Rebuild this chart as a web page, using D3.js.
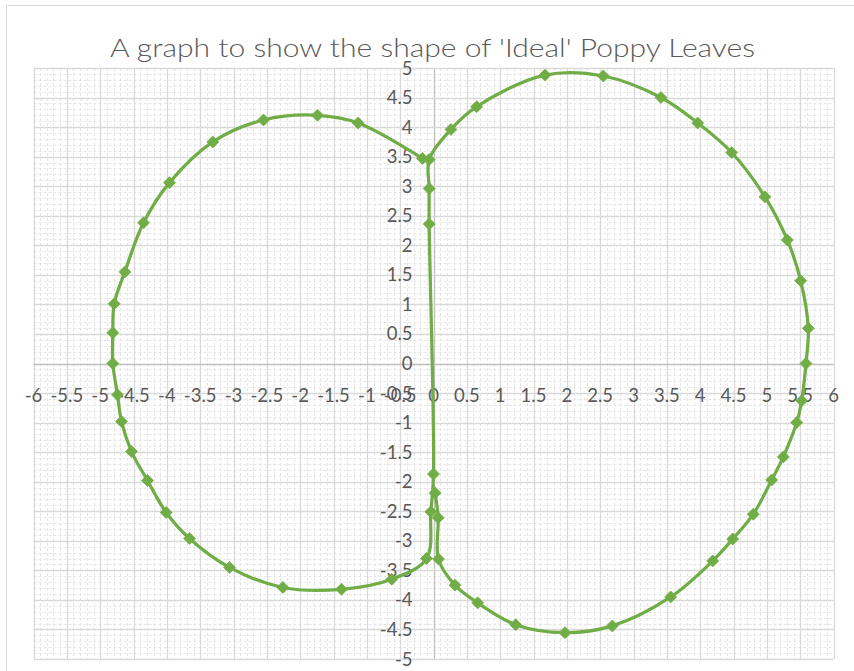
<!DOCTYPE html>
<html>
<head>
<meta charset="utf-8">
<script src="https://cdn.jsdelivr.net/npm/d3@7/dist/d3.min.js"></script>
<style>
  body { margin: 0; background: #fff; }
  svg { display: block; }
  text { font-family: Lato, "Open Sans", sans-serif; fill: #595959; }
</style>
</head>
<body>
<svg id="chart" width="854" height="671"></svg>
<script>
// Chart text and axis ticks
const chartTitle = "A graph to show the shape of 'Ideal' Poppy Leaves";
const xTicks = [-6, -5.5, -5, -4.5, -4, -3.5, -3, -2.5, -2, -1.5, -1, -0.5, 0,
                0.5, 1, 1.5, 2, 2.5, 3, 3.5, 4, 4.5, 5, 5.5, 6];
const yTicks = [-5, -4.5, -4, -3.5, -3, -2.5, -2, -1.5, -1, -0.5, 0,
                0.5, 1, 1.5, 2, 2.5, 3, 3.5, 4, 4.5, 5];

// Leaf outline, traced as one series: left leaf from the top of the stem,
// round and back to the base, up the stem, then round the right leaf.
const leafX = [
  -0.165, -1.13, -1.74, -2.55, -3.31, -3.96, -4.35, -4.63, -4.79, -4.81, -4.81,
  -4.74, -4.68, -4.53, -4.29, -4.01, -3.66, -3.06, -2.26, -1.38, -0.627,
  -0.105, -0.04, 0.0, -0.065, -0.065, -0.065,
  0.262, 0.648, 1.672, 2.547, 3.412, 3.963, 4.473, 4.972, 5.307, 5.508, 5.622,
  5.587, 5.523, 5.448, 5.247, 5.073, 4.797, 4.488, 4.188, 3.558, 2.682, 1.972,
  1.233, 0.663, 0.322, 0.075, 0.07, 0.025
];
const leafY = [
  3.47, 4.07, 4.20, 4.12, 3.75, 3.06, 2.38, 1.55, 1.01, 0.52, 0.0,
  -0.53, -0.98, -1.49, -1.98, -2.52, -2.96, -3.45, -3.79, -3.82, -3.65,
  -3.30, -2.51, -1.87, 2.36, 2.96, 3.45,
  3.96, 4.345, 4.88, 4.865, 4.50, 4.07, 3.57, 2.82, 2.09, 1.40, 0.595,
  0.0, -0.63, -1.0, -1.58, -1.97, -2.55, -2.97, -3.34, -3.95, -4.44, -4.555,
  -4.42, -4.05, -3.75, -3.31, -2.61, -2.19
];

const leafPoints = leafX.map((v, i) => [v, leafY[i]]);

const svg = d3.select("#chart");
const x = d3.scaleLinear().domain([-6, 6]).range([33.5, 833.5]);
const y = d3.scaleLinear().domain([-5, 5]).range([659, 68]);

const green = "#70ad47";

// Chart area frame
svg.append("rect")
  .attr("x", 6.5).attr("y", 5.5)
  .attr("width", 900).attr("height", 700)
  .attr("fill", "#fff").attr("stroke", "#d9d9d9");

// Title
svg.append("text")
  .attr("x", 432.5).attr("y", 57)
  .attr("text-anchor", "middle")
  .attr("font-size", 26)
  .attr("font-weight", 300)
  .attr("textLength", 645)
  .attr("lengthAdjust", "spacingAndGlyphs")
  .text(chartTitle);

// Minor gridlines every 0.1
const grid = svg.append("g");
const minorXs = x.ticks(120).filter(v => Math.abs(v * 2 - Math.round(v * 2)) > 1e-6);
const minorYs = y.ticks(100).filter(v => Math.abs(v * 2 - Math.round(v * 2)) > 1e-6);
grid.selectAll("line.mx").data(minorXs).join("line")
  .attr("x1", d => Math.round(x(d)) + 0.5).attr("x2", d => Math.round(x(d)) + 0.5)
  .attr("y1", y(5)).attr("y2", y(-5))
  .attr("stroke", "#e6e6e6").attr("stroke-dasharray", "3,2");
grid.selectAll("line.my").data(minorYs).join("line")
  .attr("y1", d => Math.round(y(d)) + 0.5).attr("y2", d => Math.round(y(d)) + 0.5)
  .attr("x1", x(-6)).attr("x2", x(6))
  .attr("stroke", "#e6e6e6").attr("stroke-dasharray", "3,2");

// Major gridlines every 0.5
grid.selectAll("line.Mx").data(xTicks).join("line")
  .attr("x1", d => Math.round(x(d)) + 0.5).attr("x2", d => Math.round(x(d)) + 0.5)
  .attr("y1", y(5)).attr("y2", y(-5))
  .attr("stroke", d => d === 0 ? "#bfbfbf" : "#d9d9d9").attr("stroke-width", 1.3);
grid.selectAll("line.My").data(yTicks).join("line")
  .attr("y1", d => Math.round(y(d)) + 0.5).attr("y2", d => Math.round(y(d)) + 0.5)
  .attr("x1", x(-6)).attr("x2", x(6))
  .attr("stroke", d => d === 0 ? "#bfbfbf" : "#d9d9d9").attr("stroke-width", 1.3);

// Axis labels, placed beside the axes that cross at the origin
const fmt = v => String(v);
svg.append("g").selectAll("text").data(xTicks).join("text")
  .attr("x", d => x(d)).attr("y", y(0) + 38)
  .attr("text-anchor", "middle")
  .attr("font-size", 18.5)
  .text(fmt);
svg.append("g").selectAll("text").data(yTicks).join("text")
  .attr("x", x(0) - 21).attr("y", d => y(d) + 6.5)
  .attr("text-anchor", "end")
  .attr("font-size", 18.5)
  .text(fmt);

// Smoothed leaf outline
const line = d3.line()
  .x(d => x(d[0])).y(d => y(d[1]))
  .curve(d3.curveCatmullRom.alpha(0.5));
svg.append("path")
  .datum(leafPoints)
  .attr("d", line)
  .attr("fill", "none")
  .attr("stroke", green)
  .attr("stroke-width", 3.25)
  .attr("stroke-linejoin", "round")
  .attr("stroke-linecap", "round");

// Diamond markers
const r = 6;
svg.append("g").selectAll("path").data(leafPoints).join("path")
  .attr("transform", d => `translate(${x(d[0])},${y(d[1])})`)
  .attr("d", `M0,${-r}L${r},0L0,${r}L${-r},0Z`)
  .attr("fill", green)
  .attr("stroke", green)
  .attr("stroke-width", 0.75);
</script>
</body>
</html>
